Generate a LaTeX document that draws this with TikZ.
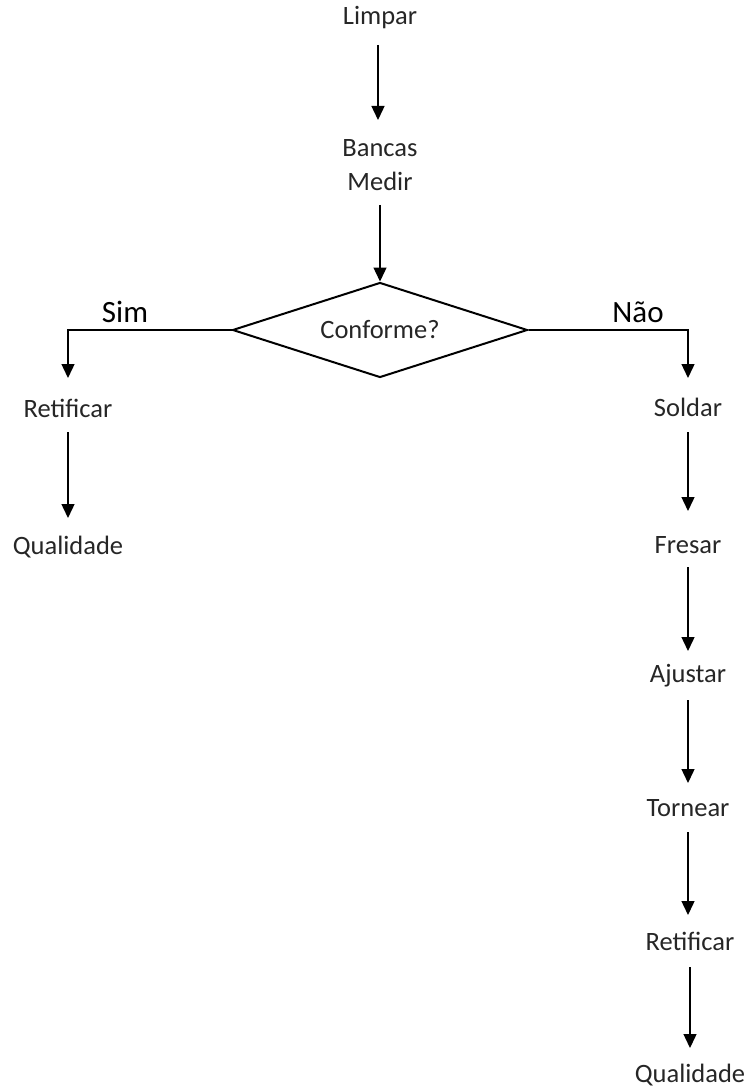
\documentclass[tikz,border=0pt]{standalone}
\usepackage{fontspec}
\setmainfont{Carlito}
\usetikzlibrary{arrows.meta,shapes.geometric}
\tikzset{
  lbl/.style={inner sep=1pt, font=\fontsize{26.5}{32}\selectfont, text=black!85, align=center},
  big/.style={inner sep=1pt, font=\fontsize{31}{34}\selectfont, text=black},
  arr/.style={line width=1.4pt, -{Triangle[length=14pt,width=13pt]}},
}
\begin{document}
\begin{tikzpicture}[x=1pt,y=-1pt]
\useasboundingbox (0,0) rectangle (752,1091);
\node[lbl] (limpar) at (380,18) {Limpar};
\node[lbl] (bancas) at (380,165) {Bancas\\[2pt]Medir};
\node[draw, diamond, aspect=3.1, line width=2pt, minimum width=295pt, minimum height=95pt, inner sep=0pt, lbl] (conf) at (380,330) {Conforme?};
\node[big] (sim) at (125,312) {Sim};
\node[big] (nao) at (638,312) {Não};
\node[lbl] (retL) at (68,408) {Retificar};
\node[lbl] (qualL) at (68,547) {Qualidade};
\node[lbl] (sold) at (688,407) {Soldar};
\node[lbl] (fres) at (688,545) {Fresar};
\node[lbl] (ajus) at (688,676) {Ajustar};
\node[lbl] (torn) at (688,808) {Tornear};
\node[lbl] (retR) at (690,941) {Retificar};
\node[lbl] (qualR) at (690,1075) {Qualidade};
\coordinate (c1) at (378,45); \coordinate (c1e) at (378,120);
\draw[arr] (c1) -- (c1e);
\coordinate (c2) at (380,205);
\draw[arr] (c2) -- (conf.north);
\draw[arr] (conf.west) -| (68,378);
\draw[arr] (conf.east) -| (688,378);
\draw[arr] (68,432) -- (68,518);
\draw[arr] (688,432) -- (688,511);
\draw[arr] (688,567) -- (688,651);
\draw[arr] (688,700) -- (688,783);
\draw[arr] (688,832) -- (688,915);
\draw[arr] (690,967) -- (690,1048);
\end{tikzpicture}
\end{document}
